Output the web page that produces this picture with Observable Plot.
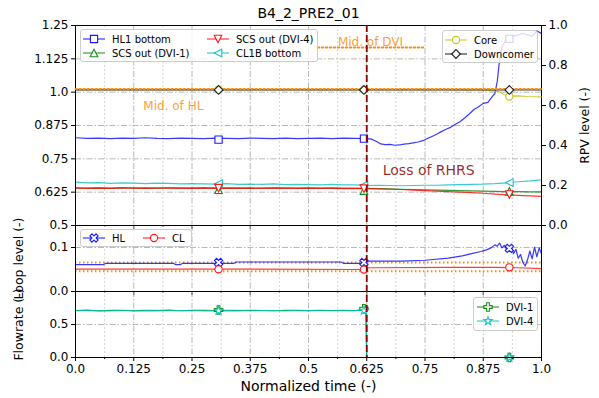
<!DOCTYPE html>
<html><head><meta charset="utf-8">
<script src="https://cdn.jsdelivr.net/npm/d3@7"></script>
<script src="https://cdn.jsdelivr.net/npm/@observablehq/plot@0.6"></script>
<style>
body{margin:0;background:#fff;}
#chart{position:relative;width:599px;height:398px;font-family:"DejaVu Sans",sans-serif;}
.legend{position:absolute;box-sizing:border-box;border:1px solid #cccccc;border-radius:3px;background:rgba(255,255,255,0.8);font-size:10px;color:#000;display:grid;align-content:start;}
.legend .item{display:flex;align-items:center;height:14px;white-space:nowrap;}
.legend svg{display:block;overflow:visible;}
</style></head><body><div id="chart"></div>
<script>
// ---------- tick values & labels ----------
const xTicks = [0,0.125,0.25,0.375,0.5,0.625,0.75,0.875,1.0];
const xTickLabels = ["0.0","0.125","0.25","0.375","0.5","0.625","0.75","0.875","1.0"];
const xMinorTicks = [0.0625,0.1875,0.3125,0.4375,0.5625,0.6875,0.8125,0.9375];
const tempTicks = [0.5,0.625,0.75,0.875,1.0,1.125,1.25];
const tempTickLabels = ["0.5","0.625","0.75","0.875","1.0","1.125","1.25"];
const rpvTicks = [0,0.2,0.4,0.6,0.8,1.0];
const rpvTickLabels = ["0.0","0.2","0.4","0.6","0.8","1.0"];
const loopTicks = [0,0.1];
const loopTickLabels = ["0.0","0.1"];
const flowTicks = [0,0.5];
const flowTickLabels = ["0.0","0.5"];

// ---------- temperature series ----------
const timeA = [0,0.025,0.05,0.075,0.1,0.125,0.15,0.175,0.2,0.225,0.25,0.275,0.3,0.325,0.35,0.375,0.4,0.425,0.45,0.475,0.5,0.525,0.55,0.575,0.6,0.625,0.65,0.675,0.7,0.725,0.75,0.775,0.8,0.825,0.85,0.875,0.9,0.925,0.95,0.975,1.0];
const cl1bBottom = [0.663,0.660,0.661,0.658,0.660,0.659,0.657,0.659,0.658,0.656,0.657,0.656,0.655,0.657,0.654,0.655,0.654,0.656,0.653,0.654,0.653,0.652,0.654,0.652,0.652,0.650,0.651,0.650,0.649,0.650,0.651,0.651,0.652,0.653,0.654,0.655,0.657,0.660,0.664,0.667,0.671];
const scsOutDvi1 = [0.641,0.640,0.641,0.640,0.642,0.640,0.641,0.640,0.641,0.641,0.640,0.642,0.640,0.641,0.640,0.641,0.640,0.641,0.641,0.640,0.641,0.640,0.641,0.640,0.640,0.639,0.638,0.637,0.636,0.635,0.634,0.633,0.632,0.631,0.630,0.629,0.628,0.627,0.627,0.626,0.626];
const scsOutDvi4 = [0.640,0.639,0.640,0.639,0.640,0.640,0.639,0.640,0.640,0.639,0.640,0.639,0.640,0.639,0.640,0.639,0.639,0.640,0.639,0.639,0.639,0.639,0.639,0.638,0.638,0.638,0.637,0.636,0.635,0.633,0.631,0.629,0.627,0.625,0.623,0.621,0.618,0.615,0.613,0.611,0.609];
const timeHL = [0,0.025,0.05,0.075,0.1,0.125,0.15,0.175,0.2,0.225,0.25,0.275,0.3,0.325,0.35,0.375,0.4,0.425,0.45,0.475,0.5,0.525,0.55,0.575,0.6,0.625,0.635,0.645,0.655,0.665,0.675,0.685,0.695,0.705,0.715,0.725,0.735,0.745,0.755,0.765,0.775,0.785,0.795,0.805,0.815,0.825,0.835,0.845,0.855,0.865,0.875,0.885,0.895,0.9,0.905,0.91,0.915,0.925,0.94,0.96,0.98,0.99,1.0];
const hl1Bottom = [0.829,0.827,0.828,0.826,0.828,0.827,0.829,0.827,0.826,0.828,0.827,0.826,0.828,0.827,0.826,0.828,0.827,0.826,0.828,0.826,0.827,0.828,0.826,0.828,0.827,0.826,0.824,0.816,0.806,0.803,0.804,0.801,0.802,0.805,0.807,0.810,0.813,0.818,0.826,0.834,0.842,0.852,0.861,0.868,0.880,0.889,0.903,0.918,0.935,0.945,0.958,0.962,0.985,0.995,1.04,1.12,1.17,1.2,1.21,1.22,1.21,1.23,1.22];

// ---------- RPV level series ----------
const timeCore = [0,0.1,0.2,0.3,0.4,0.5,0.6,0.7,0.8,0.85,0.88,0.9,0.91,0.92,0.93,0.95,0.97,1.0];
const coreLevel = [0.679,0.679,0.679,0.679,0.679,0.679,0.679,0.679,0.679,0.678,0.678,0.672,0.668,0.655,0.647,0.648,0.645,0.643];
const timeDown = [0,1.0];
const downcomerLevel = [0.678,0.678];
const midHLTime = [0,1.0];
const midHLLevel = [0.682,0.682];
const midDVITime = [0.52,0.75];
const midDVILevel = [0.89,0.89];

// ---------- loop level series ----------
const timeLoopHL = [0,0.06,0.065,0.1,0.15,0.21,0.215,0.225,0.23,0.3,0.34,0.345,0.45,0.57,0.575,0.62,0.625,0.7,0.75,0.8,0.83,0.85,0.87,0.88,0.89,0.9,0.905,0.91,0.915,0.92,0.925,0.93,0.935,0.94,0.945,0.95,0.955,0.96,0.965,0.97,0.975,0.98,0.985,0.99,0.995,1.0];
const loopHL = [0.061,0.061,0.064,0.064,0.064,0.064,0.061,0.061,0.064,0.064,0.064,0.067,0.067,0.067,0.064,0.064,0.069,0.069,0.071,0.076,0.081,0.086,0.091,0.094,0.098,0.106,0.103,0.110,0.099,0.105,0.096,0.100,0.104,0.086,0.096,0.076,0.084,0.066,0.058,0.072,0.092,0.074,0.101,0.079,0.099,0.086];
const timeLoopCL = [0,0.3,0.62,0.625,0.63,0.8,0.9,0.95,1.0];
const loopCL = [0.051,0.051,0.050,0.052,0.054,0.055,0.055,0.054,0.052];
const loopRefLevels = [0.066,0.046];

// ---------- flowrate series ----------
const timeFlow = [0,0.025,0.05,0.075,0.1,0.125,0.15,0.175,0.2,0.225,0.25,0.275,0.3,0.325,0.35,0.375,0.4,0.425,0.45,0.475,0.5,0.525,0.55,0.575,0.6,0.615,0.62,0.623,0.625,1.0];
const flowDvi1 = [0.712,0.718,0.705,0.713,0.716,0.709,0.714,0.711,0.717,0.708,0.713,0.715,0.710,0.714,0.709,0.716,0.712,0.708,0.715,0.713,0.710,0.716,0.712,0.714,0.711,0.725,0.745,0.730,0.0,0.0];
const flowDvi4 = [0.708,0.712,0.710,0.706,0.712,0.707,0.711,0.713,0.708,0.710,0.712,0.707,0.711,0.709,0.713,0.708,0.710,0.712,0.707,0.711,0.709,0.710,0.708,0.712,0.710,0.712,0.715,0.710,0.0,0.0];

// ---------- markers ----------
const markTime = [0.307,0.619,0.931];
const mkHL1 = [0.822,0.826,1.2];
const mkDvi1T = [0.634,0.631,0.628];
const mkDvi4T = [0.640,0.638,0.616];
const mkCL1B = [0.657,0.651,0.661];
const mkCore = [0.679,0.679,0.645];
const mkDown = [0.678,0.678,0.678];
const mkLoopHL = [0.066,0.066,0.098];
const mkLoopCL = [0.0505,0.050,0.055];
const mkFlow1 = [0.72,0.74,0.0];
const mkFlow4 = [0.71,0.71,0.0];

// ---------- annotations ----------
const lossTime = 0.625;
const noteText = ["Mid. of HL","Mid. of DVI","Loss of RHRS"];
const noteX = [0.21,0.633,0.758];
const noteY = [0.595,0.915,0.275];
const titleText = "B4_2_PRE2_01";

// ---------- helpers ----------
const zip = (xs, ys) => xs.map((x, i) => ({x, y: ys[i]}));
const fmt = (ticks, labels) => d => labels[ticks.indexOf(d)];
function poly(pts){return {draw(ctx,size){const r=Math.sqrt(size/Math.PI);pts.forEach(([a,b],i)=>i?ctx.lineTo(a*r,b*r):ctx.moveTo(a*r,b*r));ctx.closePath();}};}
const plusPts=[[-1/3,-1],[1/3,-1],[1/3,-1/3],[1,-1/3],[1,1/3],[1/3,1/3],[1/3,1],[-1/3,1],[-1/3,1/3],[-1,1/3],[-1,-1/3],[-1/3,-1/3]];
const c45=Math.SQRT1_2;
const xPts=plusPts.map(([a,b])=>[(a-b)*c45*1.15,(a+b)*c45*1.15]);
const starPts=[];for(let k=0;k<10;k++){const ang=-Math.PI/2+k*Math.PI/5;const rr=k%2?0.45:1.15;starPts.push([rr*Math.cos(ang),rr*Math.sin(ang)]);}
const SYM={
  square:poly([[-0.95,-0.95],[0.95,-0.95],[0.95,0.95],[-0.95,0.95]]),
  triUp:poly([[0,-1],[1,1],[-1,1]]),
  triDown:poly([[0,1],[1,-1],[-1,-1]]),
  triLeft:poly([[-1,0],[1,-1],[1,1]]),
  diamond:poly([[0,-1.15],[1.15,0],[0,1.15],[-1.15,0]]),
  circle:{draw(ctx,size){const r=Math.sqrt(size/Math.PI)*0.95;ctx.moveTo(r,0);ctx.arc(0,0,r,0,2*Math.PI);}},
  plusF:poly(plusPts.map(([a,b])=>[a*1.1,b*1.1])),
  xF:poly(xPts),
  star:poly(starPts)
};
const C={blue:"#0000ff",red:"#ff0000",green:"#008000",cyan:"#00bfbf",core:"#bfbf00",black:"#000000",orange:"darkorange",darkred:"#8b0000"};
const OP=0.78, R=3.8;
const W=599,H=398,ML=75,MR=58;
const chart=document.getElementById("chart");
const gridStyle={stroke:"#b0b0b0",strokeOpacity:1,strokeDasharray:"6,2,1.5,2",strokeWidth:0.9};
const minorStyle={stroke:"#cfcfcf",strokeOpacity:1,strokeDasharray:"2,2",strokeWidth:0.9};
function layer(o){
  const svg=Plot.plot({width:W,height:H,marginLeft:ML,marginRight:MR,...o,
    style:{position:"absolute",left:"0px",top:"0px",background:"transparent",overflow:"visible",fontFamily:"DejaVu Sans",fontSize:"12px",color:"#000"}});
  chart.appendChild(svg);
}
const lineOf=(xs,ys,color,extra={})=>Plot.line(zip(xs,ys),{x:"x",y:"y",stroke:color,strokeOpacity:OP,strokeWidth:1.2,...extra});
const dotsOf=(ys,color,sym)=>Plot.dot(zip(markTime,ys),{x:"x",y:"y",symbol:sym,r:R,stroke:color,strokeOpacity:0.9,fill:"white",strokeWidth:1.1});
const gridX=()=>[Plot.ruleX(xMinorTicks,minorStyle),Plot.ruleX(xTicks,gridStyle)];
const xTickMarks=(labels)=>[
  Plot.axisX({ticks:xTicks,tickFormat:labels?fmt(xTicks,xTickLabels):()=>"",tickSize:4,tickPadding:3,label:null}),
  Plot.axisX({ticks:xMinorTicks,tickFormat:()=>"",tickSize:2,label:null})
];
const yLabel=(t)=>Plot.text([t],{text:d=>d,frameAnchor:"left",dx:-57,rotate:-90,textAnchor:"middle",lineAnchor:"middle",fontSize:12.5});

// ---------- top panel: temperature ----------
layer({marginTop:25,marginBottom:H-225,x:{domain:[0,1]},y:{domain:[0.5,1.25]},clip:true,marks:[
  ...gridX(),
  Plot.ruleY(tempTicks,gridStyle),
  lineOf(timeHL,hl1Bottom,C.blue,{clip:true}),
  lineOf(timeA,scsOutDvi1,C.green),
  lineOf(timeA,cl1bBottom,C.cyan),
  lineOf(timeA,scsOutDvi4,C.red),
  dotsOf(mkHL1,C.blue,SYM.square),
  dotsOf(mkDvi1T,C.green,SYM.triUp),
  dotsOf(mkCL1B,C.cyan,SYM.triLeft),
  dotsOf(mkDvi4T,C.red,SYM.triDown),
  Plot.frame({stroke:"#000"}),
  Plot.axisY({ticks:tempTicks,tickFormat:fmt(tempTicks,tempTickLabels),tickSize:4,tickPadding:3,label:null}),
  ...xTickMarks(false),
  yLabel("Temperature (-)")
]});

// ---------- top panel twin: RPV level ----------
layer({marginTop:25,marginBottom:H-225,x:{domain:[0,1],axis:null},y:{domain:[0,1]},marks:[
  lineOf(timeCore,coreLevel,C.core),
  lineOf(timeDown,downcomerLevel,C.black,{strokeWidth:1.1}),
  lineOf(midHLTime,midHLLevel,C.orange,{strokeOpacity:1,strokeWidth:2,strokeDasharray:"1.5,2.5"}),
  lineOf(midDVITime,midDVILevel,C.orange,{strokeOpacity:1,strokeWidth:2,strokeDasharray:"1.5,2.5"}),
  dotsOf(mkCore,C.core,SYM.circle),
  dotsOf(mkDown,C.black,SYM.diamond),
  Plot.text(zip(noteX,noteY).map((d,i)=>({...d,t:noteText[i]})),{x:"x",y:"y",text:"t",
    fill:d=>d.t==="Loss of RHRS"?C.darkred:C.orange,fontSize:d=>d.t==="Loss of RHRS"?14:12,fillOpacity:0.85}),
  Plot.axisY({anchor:"right",ticks:rpvTicks,tickFormat:fmt(rpvTicks,rpvTickLabels),tickSize:4,tickPadding:3,label:null}),
  Plot.text(["RPV level (-)"],{text:d=>d,frameAnchor:"right",dx:43,rotate:-90,textAnchor:"middle",lineAnchor:"middle",fontSize:12.5})
]});

// ---------- middle panel: loop level ----------
layer({marginTop:225,marginBottom:H-291,x:{domain:[0,1]},y:{domain:[0,0.15]},marks:[
  ...gridX(),
  Plot.ruleY(loopTicks,gridStyle),
  Plot.ruleY(loopRefLevels,{stroke:C.orange,strokeWidth:2,strokeDasharray:"1.5,2.5"}),
  lineOf(timeLoopHL,loopHL,C.blue),
  lineOf(timeLoopCL,loopCL,C.red),
  dotsOf(mkLoopHL,C.blue,SYM.xF),
  dotsOf(mkLoopCL,C.red,SYM.circle),
  Plot.frame({stroke:"#000"}),
  Plot.axisY({ticks:loopTicks,tickFormat:fmt(loopTicks,loopTickLabels),tickSize:4,tickPadding:3,label:null}),
  ...xTickMarks(false),
  yLabel("Loop level (-)")
]});

// ---------- bottom panel: flowrate ----------
layer({marginTop:291,marginBottom:H-357,x:{domain:[0,1]},y:{domain:[0,1]},marks:[
  ...gridX(),
  Plot.ruleY(flowTicks,gridStyle),
  lineOf(timeFlow,flowDvi1,C.green),
  lineOf(timeFlow,flowDvi4,C.cyan),
  dotsOf(mkFlow1,C.green,SYM.plusF),
  dotsOf(mkFlow4,C.cyan,SYM.star),
  Plot.frame({stroke:"#000"}),
  Plot.axisY({ticks:flowTicks,tickFormat:fmt(flowTicks,flowTickLabels),tickSize:4,tickPadding:3,label:null}),
  ...xTickMarks(true),
  yLabel("Flowrate (-)"),
  Plot.text(["Normalized time (-)"],{text:d=>d,frameAnchor:"bottom",dy:29,textAnchor:"middle",lineAnchor:"middle",fontSize:14})
]});

// ---------- overlay: event line & title ----------
layer({marginTop:25,marginBottom:H-357,x:{domain:[0,1],axis:null},y:{domain:[0,1],axis:null},marks:[
  Plot.ruleX([lossTime],{stroke:C.darkred,strokeWidth:1.8,strokeDasharray:"7,3"}),
  Plot.text([titleText],{text:d=>d,frameAnchor:"top",dy:-12,textAnchor:"middle",lineAnchor:"middle",fontSize:14})
]});

// ---------- legends ----------
function legend(items,{left,top,width,height,cols,pad}){
  const div=document.createElement("div");
  div.className="legend";
  Object.assign(div.style,{left:left+"px",top:top+"px",width:width+"px",height:height+"px",gridTemplateColumns:cols,padding:pad});
  for(const it of items){
    const path=d3.symbol(it.sym,Math.PI*R*R)();
    const el=document.createElement("div");el.className="item";
    el.innerHTML=`<svg width="22" height="12"><line x1="0" x2="22" y1="6" y2="6" stroke="${it.color}" stroke-opacity="${OP}" stroke-width="1.2"/><path transform="translate(11,6)" d="${path}" fill="white" stroke="${it.color}" stroke-opacity="0.9" stroke-width="1.1"/></svg><span style="margin-left:7px">${it.label}</span>`;
    div.appendChild(el);
  }
  chart.appendChild(div);
}
legend([
  {label:"HL1 bottom",color:C.blue,sym:SYM.square},
  {label:"SCS out (DVI-4)",color:C.red,sym:SYM.triDown},
  {label:"SCS out (DVI-1)",color:C.green,sym:SYM.triUp},
  {label:"CL1B bottom",color:C.cyan,sym:SYM.triLeft}
],{left:80,top:29,width:238,height:33,cols:"124px auto",pad:"2px 3px 0 2px"});
legend([
  {label:"Core",color:C.core,sym:SYM.circle},
  {label:"Downcomer",color:C.black,sym:SYM.diamond}
],{left:442,top:30,width:96,height:33,cols:"auto",pad:"2px 2px 0 2px"});
legend([
  {label:"HL",color:C.blue,sym:SYM.xF},
  {label:"CL",color:C.red,sym:SYM.circle}
],{left:80,top:229,width:112,height:18,cols:"60px auto",pad:"1px 2px 0 2px"});
legend([
  {label:"DVI-1",color:C.green,sym:SYM.plusF},
  {label:"DVI-4",color:C.cyan,sym:SYM.star}
],{left:473,top:297,width:65,height:34,cols:"auto",pad:"2px 2px 0 3px"});
</script></body></html>
